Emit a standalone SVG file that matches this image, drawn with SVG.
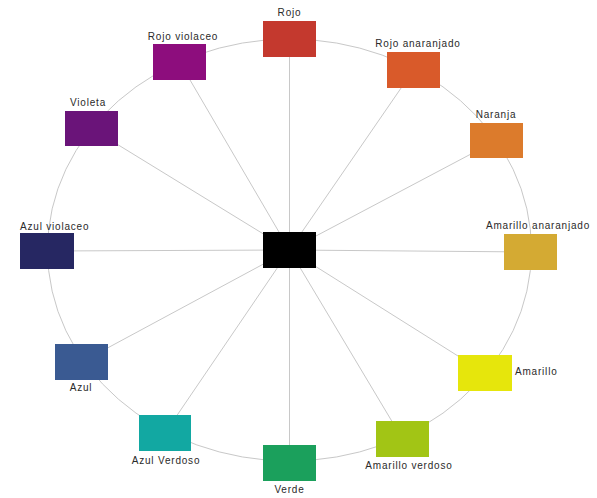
<svg xmlns="http://www.w3.org/2000/svg" width="597" height="498" viewBox="0 0 597 498">
<style>
.c{fill:none;stroke:#c8c8c8;stroke-width:1}
.b{stroke:none}
text{font-family:"Liberation Sans",Arial,sans-serif;font-size:10px;letter-spacing:0.8px;fill:#2a2a2a}
.m{text-anchor:middle}
</style>
<rect width="597" height="498" fill="#fff"/>
<g id="connectors">
<ellipse class="c" cx="289.5" cy="250" rx="242" ry="211"/>
<line class="c" x1="289.5" y1="250" x2="289.5" y2="39"/>
<line class="c" x1="289.5" y1="250" x2="413.5" y2="70"/>
<line class="c" x1="289.5" y1="250" x2="496.5" y2="140.5"/>
<line class="c" x1="289.5" y1="250" x2="531" y2="252"/>
<line class="c" x1="289.5" y1="250" x2="485" y2="373"/>
<line class="c" x1="289.5" y1="250" x2="402.5" y2="439"/>
<line class="c" x1="289.5" y1="250" x2="289.5" y2="463"/>
<line class="c" x1="289.5" y1="250" x2="165" y2="433"/>
<line class="c" x1="289.5" y1="250" x2="81.5" y2="362"/>
<line class="c" x1="289.5" y1="250" x2="47" y2="251"/>
<line class="c" x1="289.5" y1="250" x2="91.5" y2="128.5"/>
<line class="c" x1="289.5" y1="250" x2="179.5" y2="62"/>
</g>
<g id="center"><rect class="b" x="263" y="232" width="53" height="36" fill="#000"/></g>
<g id="rojo"><rect class="b" x="263" y="21" width="53" height="36" fill="#c4392e"/><text class="m" x="289.5" y="16">Rojo</text></g>
<g id="rojo-anaranjado"><rect class="b" x="387" y="52" width="53" height="36" fill="#d95a2a"/><text class="m" x="418" y="47">Rojo anaranjado</text></g>
<g id="naranja"><rect class="b" x="470" y="123" width="53" height="35" fill="#dc7b2c"/><text class="m" x="496" y="118">Naranja</text></g>
<g id="amarillo-anaranjado"><rect class="b" x="504" y="234" width="53" height="36" fill="#d4aa33"/><text class="m" x="538" y="229">Amarillo anaranjado</text></g>
<g id="amarillo"><rect class="b" x="458" y="355" width="54" height="36" fill="#e6e60c"/><text x="515" y="375">Amarillo</text></g>
<g id="amarillo-verdoso"><rect class="b" x="376" y="421" width="53" height="36" fill="#a2c515"/><text class="m" x="409" y="469">Amarillo verdoso</text></g>
<g id="verde"><rect class="b" x="263" y="445" width="53" height="36" fill="#1ba05c"/><text class="m" x="289.5" y="493">Verde</text></g>
<g id="azul-verdoso"><rect class="b" x="139" y="415" width="52" height="36" fill="#12a8a2"/><text class="m" x="166" y="464">Azul Verdoso</text></g>
<g id="azul"><rect class="b" x="55" y="344" width="53" height="36" fill="#3a5a92"/><text class="m" x="81" y="391">Azul</text></g>
<g id="azul-violaceo"><rect class="b" x="20" y="233" width="54" height="36" fill="#262762"/><text x="20" y="230">Azul violaceo</text></g>
<g id="violeta"><rect class="b" x="65" y="111" width="53" height="35" fill="#6a1479"/><text class="m" x="88" y="106">Violeta</text></g>
<g id="rojo-violaceo"><rect class="b" x="153" y="44" width="53" height="36" fill="#8d0d7d"/><text class="m" x="183" y="40">Rojo violaceo</text></g>
</svg>
